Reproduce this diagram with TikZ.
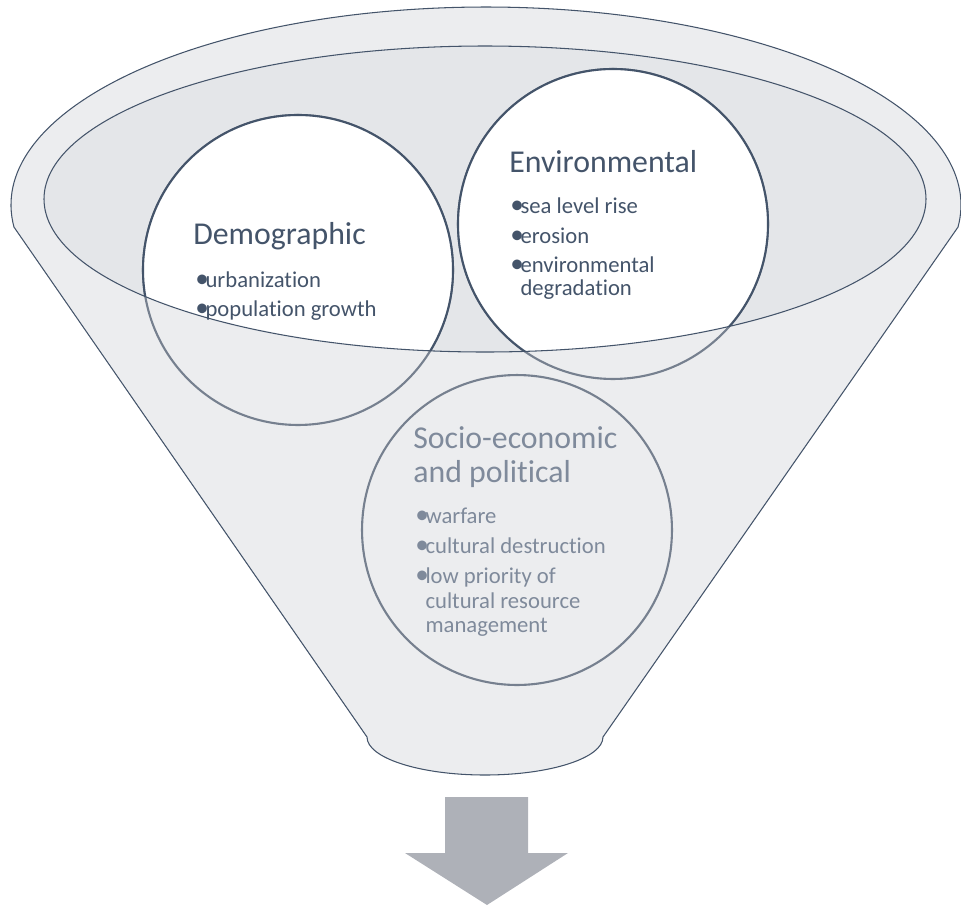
\documentclass[tikz,border=0pt]{standalone}
\usepackage{fontspec}
\setmainfont{Carlito}[Ligatures=NoCommon]
\definecolor{slate}{HTML}{44546A}
\definecolor{ghost}{HTML}{76808F}
\definecolor{fade}{HTML}{7F8A9B}
\definecolor{rim}{HTML}{ECEDEF}
\definecolor{mouth}{HTML}{E4E6E9}
\definecolor{shaft}{HTML}{AEB1B8}
\newcommand{\bul}{\makebox[5.8pt][l]{\raisebox{-0.2pt}{\scalebox{1.2}{•}}}}
\newcommand{\nobul}{\makebox[5.8pt][l]{}}
\begin{document}
\begin{tikzpicture}[x=0.02cm,y=0.02cm,
    ball/.style={circle,minimum size=6.2cm,line width=1.2pt},
    title/.style={anchor=base west,inner sep=0pt,font=\fontsize{18.1}{18.1}\selectfont},
    item/.style={anchor=base west,inner sep=0pt,font=\fontsize{12.9}{12.9}\selectfont}]
  \useasboundingbox (0,0) rectangle (961,-907);
  % funnel
  \draw[fill=rim,draw=slate,line width=0.6pt] (486,-205) ++(186.4:475 and 198)
    arc[start angle=186.4,end angle=-6.4,x radius=475,y radius=198]
    -- (603,-737) arc[start angle=0,end angle=-180,x radius=118,y radius=38]
    -- cycle;
  \fill[mouth] (485,-199) ellipse[x radius=441,y radius=153];

  \node[ball,draw=ghost](demo)  at(298,-270) {};
  \node[ball,draw=ghost](env)   at(613,-224) {};
  \node[ball,draw=ghost](socio) at(517,-530) {};
  \begin{scope}
    \clip (485,-199) ellipse[x radius=441,y radius=153];
    \foreach \b in {demo,env}{
      \draw[slate,fill=white,line width=1.2pt](\b) circle[radius=155];
    }
  \end{scope}
  \draw[slate,line width=0.6pt] (485,-199) ellipse[x radius=441,y radius=153];

  \node[title,text=slate](demotitle) at(193,-244) {Demographic};
  \foreach \y/\t [count=\i] in {287/\bul urbanization, 316/\bul population growth}{
    \node[item,text=slate](demo\i) at(195,-\y) {\t};
  }
  \node[title,text=slate](envtitle) at(509,-172) {Environmental};
  \foreach \y/\t [count=\i] in {213/\bul sea level rise, 243/\bul erosion,
    272/\bul environmental, 295/\nobul degradation}{
    \node[item,text=slate](env\i) at(510,-\y) {\t};
  }
  \node[title,text=fade](sociotitle) at(413,-448) {Socio-economic};
  \node[title,text=fade](sociotitleb) at(413,-482) {and political};
  \foreach \y/\t [count=\i] in {523/\bul warfare, 553/\bul cultural destruction,
    583/\bul low priority of, 608/\nobul cultural resource, 632/\nobul management}{
    \node[item,text=fade](socio\i) at(415,-\y) {\t};
  }

  % arrow
  \fill[shaft] (445,-797) -- (528,-797) -- (528,-853) -- (568,-853) -- (487,-905)
    -- (405,-853) -- (445,-853) -- cycle;
\end{tikzpicture}
\end{document}
